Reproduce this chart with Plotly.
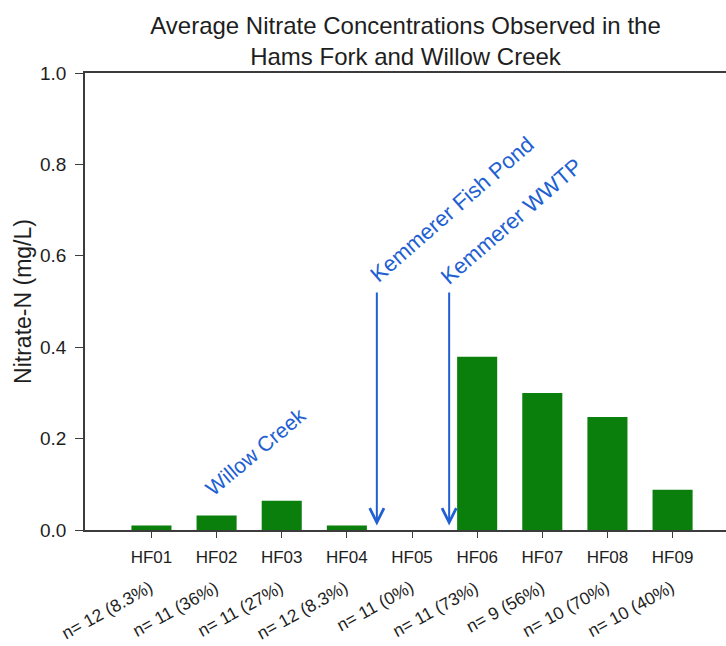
import plotly.graph_objects as go

# Sampling sites along the Hams Fork / Willow Creek
sites = ["HF01", "HF02", "HF03", "HF04", "HF05", "HF06", "HF07", "HF08", "HF09"]
# Average nitrate-N concentration (mg/L)
nitrate = [0.010, 0.032, 0.064, 0.010, 0.0, 0.379, 0.300, 0.247, 0.088]
# Number of samples and percent of samples above detection
n_obs = [12, 11, 11, 12, 11, 11, 9, 10, 10]
pct_detect = ["8.3%", "36%", "27%", "8.3%", "0%", "73%", "56%", "70%", "40%"]

# Landmarks marked on the chart: (label, x position in site index units)
landmarks = [("Kemmerer Fish Pond", 3.46), ("Kemmerer WWTP", 4.57)]

FONT = "Liberation Sans, Arial, sans-serif"
BLUE = "#2160d2"
AXIS = "#3c3c3c"
TEXT = "#1e1e1e"

fig = go.Figure()
fig.add_trace(go.Bar(
    x=sites,
    y=nitrate,
    width=0.615,
    marker=dict(color="#0a7f0c", line=dict(width=0)),
    hoverinfo="x+y",
))

annotations = []

# sample count / detection frequency labels under each site
for i, (n, p) in enumerate(zip(n_obs, pct_detect)):
    annotations.append(dict(
        x=i + 0.12, xref="x", y=-0.097, yref="paper",
        text=f"n= {n} ({p})", showarrow=False, textangle=-29,
        xanchor="right", yanchor="top",
        font=dict(family=FONT, size=17.5, color=TEXT),
    ))

# arrows marking inflows
for label, xpos in landmarks:
    annotations.append(dict(
        x=xpos, y=0.01, xref="x", yref="y",
        ax=xpos, ay=0.523, axref="x", ayref="y",
        text="", showarrow=True, arrowhead=5, arrowsize=1.4,
        arrowwidth=2, arrowcolor=BLUE, standoff=0,
    ))

# rotated blue labels
annotations.append(dict(
    x=4.61, y=0.702, xref="x", yref="y", text=landmarks[0][0],
    showarrow=False, textangle=-41, xanchor="center", yanchor="middle",
    font=dict(family=FONT, size=22, color=BLUE),
))
annotations.append(dict(
    x=5.52, y=0.676, xref="x", yref="y", text=landmarks[1][0],
    showarrow=False, textangle=-41, xanchor="center", yanchor="middle",
    font=dict(family=FONT, size=22, color=BLUE),
))
annotations.append(dict(
    x=1.6, y=0.172, xref="x", yref="y", text="Willow Creek",
    showarrow=False, textangle=-40, xanchor="center", yanchor="middle",
    font=dict(family=FONT, size=21, color=BLUE),
))

fig.update_layout(
    width=726, height=646,
    margin=dict(l=85, r=0, t=73, b=116),
    paper_bgcolor="white", plot_bgcolor="white",
    showlegend=False,
    font=dict(family=FONT, color=TEXT),
    title=dict(
        text="Average Nitrate Concentrations Observed in the<br>Hams Fork and Willow Creek",
        x=0.5, xanchor="center", xref="paper",
        y=1 - 33.5 / 646, yanchor="middle", yref="container",
        font=dict(family=FONT, size=24, color=TEXT),
    ),
    xaxis=dict(
        type="category",
        range=[-1.02, 8.82],
        showline=True, linecolor=AXIS, linewidth=1.5, mirror=True,
        ticks="outside", ticklen=6, tickwidth=1, tickcolor=AXIS,
        ticklabelstandoff=5,
        tickfont=dict(family=FONT, size=17, color=TEXT),
        showgrid=False, zeroline=False, fixedrange=True,
    ),
    yaxis=dict(
        range=[0, 1],
        tickvals=[0, 0.2, 0.4, 0.6, 0.8, 1.0],
        ticktext=["0.0", "0.2", "0.4", "0.6", "0.8", "1.0"],
        showline=True, linecolor=AXIS, linewidth=1.5,
        ticks="outside", ticklen=8, tickwidth=1, tickcolor=AXIS,
        ticklabelstandoff=5,
        tickfont=dict(family=FONT, size=19, color=TEXT),
        title=dict(text="Nitrate-N (mg/L)", standoff=2,
                   font=dict(family=FONT, size=23, color=TEXT)),
        showgrid=False, zeroline=False, fixedrange=True,
    ),
    annotations=annotations,
)

fig.write_html("out.html")
